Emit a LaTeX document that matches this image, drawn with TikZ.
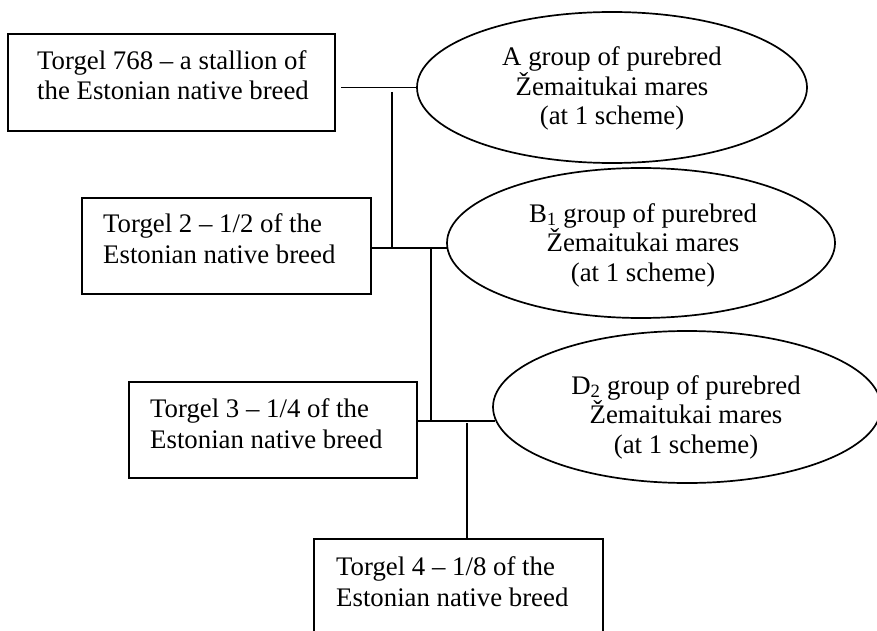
\documentclass[tikz,border=0pt]{standalone}
\usepackage{fontspec}
\setmainfont{Liberation Serif}
\usetikzlibrary{shapes.geometric}
\tikzset{
  boxshape/.style={draw, line width=2pt, rectangle, inner sep=0pt},
  ellshape/.style={draw, line width=1.7pt, ellipse, inner sep=0pt},
  ln/.style={line width=1.8pt},
  txtl/.style={inner sep=0pt, align=left, font=\fontsize{26.8}{30.5}\selectfont},
  txtc/.style={inner sep=0pt, align=center, font=\fontsize{26.8}{29.5}\selectfont},
}
\begin{document}
\begin{tikzpicture}[x=1pt, y=-1pt]
\useasboundingbox (0,0) rectangle (877,631);
% boxes
\node[boxshape, minimum width=327.5pt, minimum height=97pt] (b1) at (171.25,82.5) {};
\node[boxshape, minimum width=289pt, minimum height=96pt] (b2) at (226.5,246) {};
\node[boxshape, minimum width=288pt, minimum height=96pt] (b3) at (273,430) {};
\node[boxshape, minimum width=289pt, minimum height=130pt] (b4) at (458.5,604) {};
% ellipses
\node[ellshape, minimum width=390pt, minimum height=151pt] (eA) at (612,87.5) {};
\node[ellshape, minimum width=388pt, minimum height=150pt] (eB) at (641,243) {};
\node[ellshape, minimum width=388pt, minimum height=152pt] (eD) at (687,407) {};
% texts (anchored at the baseline of the last line)
\node[txtl, anchor=base west] (t1) at (37,100) {Torgel 768 – a stallion of\\the Estonian native breed};
\node[txtl, anchor=base west] (t2) at (103,263) {Torgel 2 – 1/2 of the\\Estonian native breed};
\node[txtl, anchor=base west] (t3) at (150,448) {Torgel 3 – 1/4 of the\\Estonian native breed};
\node[txtl, anchor=base west] (t4) at (336,606) {Torgel 4 – 1/8 of the\\Estonian native breed};
\node[txtc, anchor=base] (tA) at (612,125) {A group of purebred\\Žemaitukai mares\\(at 1 scheme)};
\node[txtc, anchor=base] (tB) at (643,281) {B\textsubscript{1} group of purebred\\Žemaitukai mares\\(at 1 scheme)};
\node[txtc, anchor=base] (tD) at (686,453) {D\textsubscript{2} group of purebred\\Žemaitukai mares\\(at 1 scheme)};
% junction coordinates
\coordinate (yB) at (0,248);
\coordinate (yD) at (0,421);
\coordinate (v1t) at (392,92);
\coordinate (v2t) at (431,248);
\coordinate (v3t) at (467,423);
% connectors
\draw[ln] ([xshift=5pt]b1.east |- eA.west) -- (eA.west);
\draw[ln] (v1t) -- (v1t |- yB);
\draw[ln] (b2.east |- yB) -- ([xshift=0.5pt]eB.west |- yB);
\draw[ln] (v2t) -- (v2t |- yD);
\draw[ln] (b3.east |- yD) -- ([xshift=2.5pt]eD.west |- yD);
\draw[ln] (v3t) -- (v3t |- b4.north);
\end{tikzpicture}
\end{document}
